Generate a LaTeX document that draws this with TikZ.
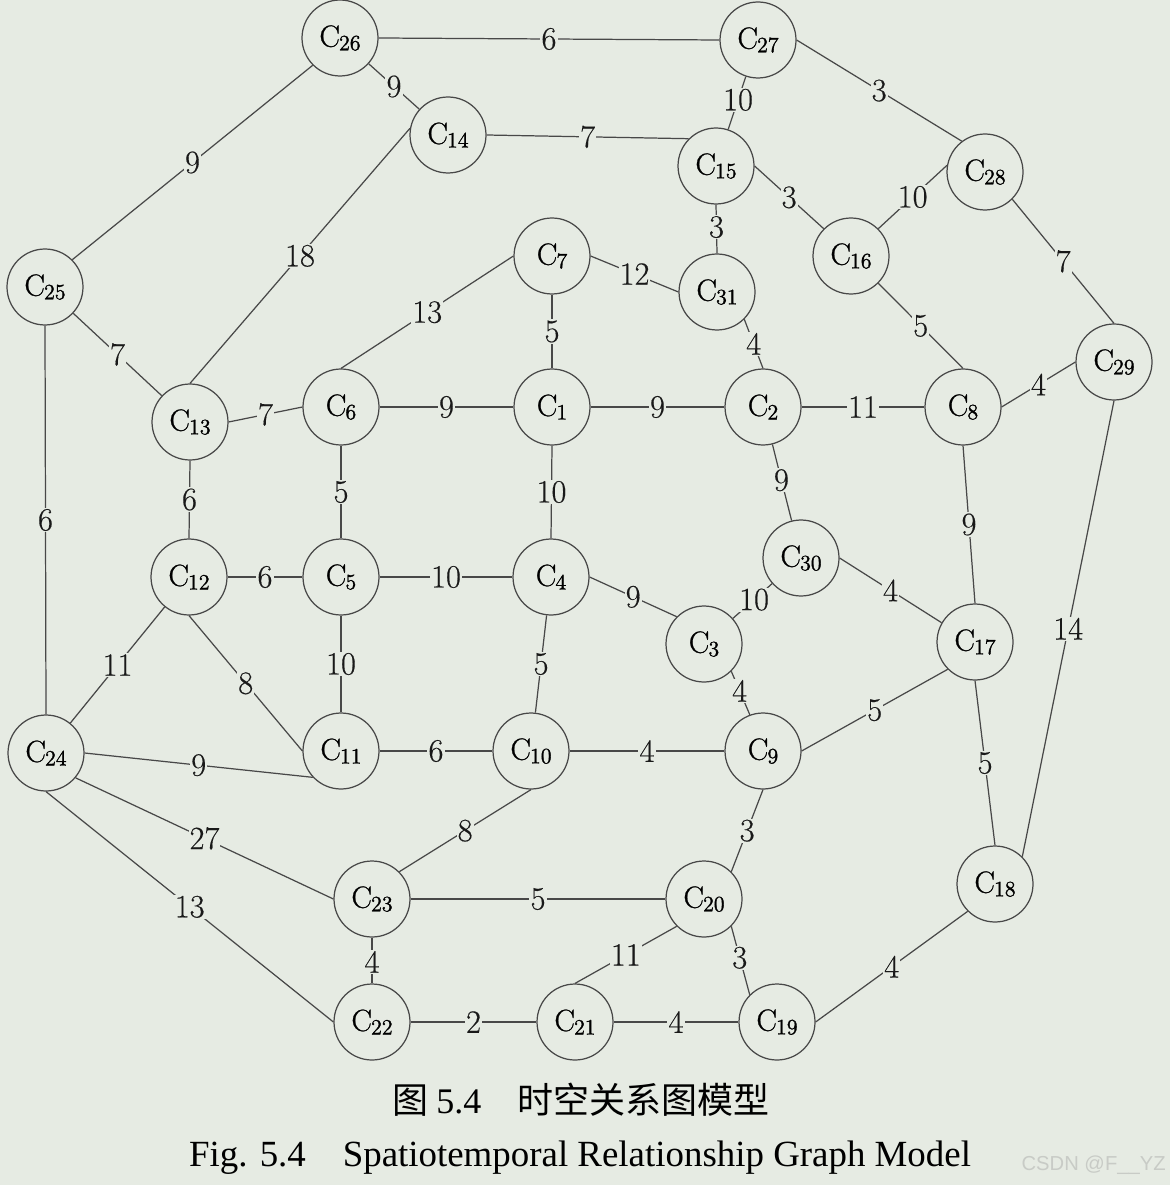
\documentclass[tikz,border=0pt]{standalone}
\usepackage{fontspec}
\newfontfamily\timesf{Liberation Serif}
\newfontfamily\cjk{Noto Sans CJK SC}
\newfontfamily\wmf{Liberation Sans}
\newfontfamily\ndf[FakeBold=0.8]{Latin Modern Roman}
\newfontfamily\ndsub[FakeBold=1.4]{Latin Modern Roman}
\newfontfamily\wtf[FakeBold=0.4]{Latin Modern Roman}
\definecolor{bg}{RGB}{230,235,227}
\definecolor{ln}{RGB}{72,72,72}
\definecolor{wm}{RGB}{200,203,198}
\newcommand\nd[1]{{\ndf C}\kern-0.5pt\raisebox{-2pt}{\ndsub\fontsize{12.5}{12.5}\selectfont #1}}
\tikzset{
  vtx/.style={circle, draw=ln, line width=0.7pt, minimum size=1.52cm, inner sep=0pt,
    fill=bg, font=\fontsize{17.5}{17.5}\selectfont},
  edge/.style={draw=ln, line width=0.7pt},
  wl/.style={fill=bg, inner sep=0.6pt, text=black!90, font=\wtf\fontsize{18.5}{18.5}\selectfont, midway},
}
\begin{document}
\begin{tikzpicture}[x=0.02cm, y=-0.02cm]
\fill[bg] (0,0) rectangle (1170,1185);
\useasboundingbox (0,0) rectangle (1170,1185);

\node[vtx] (C26) at (340,38) {\nd{26}};
\node[vtx] (C27) at (758,40) {\nd{27}};
\node[vtx] (C14) at (448,135) {\nd{14}};
\node[vtx] (C15) at (716,166) {\nd{15}};
\node[vtx] (C28) at (985,172) {\nd{28}};
\node[vtx] (C25) at (45,287) {\nd{25}};
\node[vtx] (C7) at (552,256) {\nd{7}};
\node[vtx] (C31) at (717,292) {\nd{31}};
\node[vtx] (C16) at (851,256) {\nd{16}};
\node[vtx] (C29) at (1114,362) {\nd{29}};
\node[vtx] (C13) at (190,422) {\nd{13}};
\node[vtx] (C6) at (341,407) {\nd{6}};
\node[vtx] (C1) at (552,407) {\nd{1}};
\node[vtx] (C2) at (763,407) {\nd{2}};
\node[vtx] (C8) at (963,407) {\nd{8}};
\node[vtx] (C30) at (801,558) {\nd{30}};
\node[vtx] (C12) at (189,577) {\nd{12}};
\node[vtx] (C5) at (341,577) {\nd{5}};
\node[vtx] (C4) at (551,577) {\nd{4}};
\node[vtx] (C3) at (704,644) {\nd{3}};
\node[vtx] (C17) at (975,642) {\nd{17}};
\node[vtx] (C24) at (46,753) {\nd{24}};
\node[vtx] (C11) at (341,751) {\nd{11}};
\node[vtx] (C10) at (531,751) {\nd{10}};
\node[vtx] (C9) at (763,751) {\nd{9}};
\node[vtx] (C18) at (995,884) {\nd{18}};
\node[vtx] (C23) at (372,899) {\nd{23}};
\node[vtx] (C20) at (704,899) {\nd{20}};
\node[vtx] (C22) at (372,1022) {\nd{22}};
\node[vtx] (C21) at (575,1022) {\nd{21}};
\node[vtx] (C19) at (777,1022) {\nd{19}};

\draw[edge] (C26.east) -- node[wl]{6} (C27.west);
\draw[edge] (C26) -- node[wl]{9} (C14);
\draw[edge] (C26.225) -- node[wl]{9} (C25.45);
\draw[edge] (C27) -- node[wl,pos=0.44]{10} (C15);
\draw[edge] (C27.east) -- node[wl]{3} (C28.127);
\draw[edge] (C14.east) -- node[wl]{7} (C15.135);
\draw[edge] (C13.north) -- node[wl]{18} (C14.170);
\draw[edge] (C15.south) -- node[wl,pos=0.46]{3} (C31.north);
\draw[edge] (C15.east) -- node[wl]{3} (C16.135);
\draw[edge] (C16.45) -- node[wl]{10} (C28.170);
\draw[edge] (C28.315) -- node[wl]{7} (C29.north);
\draw[edge] (C25) -- node[wl]{7} (C13);
\draw[edge] (C25.south) -- node[wl]{6} (C24.north);
\draw[edge] (C6.north) -- node[wl]{13} (C7.west);
\draw[edge] (C7.east) -- node[wl]{12} (C31.west);
\draw[edge] (C7.south) -- node[wl]{5} (C1.north);
\draw[edge] (C31.315) -- node[wl]{4} (C2.north);
\draw[edge] (C16.315) -- node[wl]{5} (C8.north);
\draw[edge] (C8.east) -- node[wl]{4} (C29.west);
\draw[edge] (C29.south) -- node[wl]{14} (C18.45);
\draw[edge] (C13.east) -- node[wl]{7} (C6.west);
\draw[edge] (C13.south) -- node[wl]{6} (C12.north);
\draw[edge] (C6.east) -- node[wl]{9} (C1.west);
\draw[edge] (C6.south) -- node[wl]{5} (C5.north);
\draw[edge] (C1.east) -- node[wl]{9} (C2.west);
\draw[edge] (C1.south) -- node[wl]{10} (C4.north);
\draw[edge] (C2.east) -- node[wl]{11} (C8.west);
\draw[edge] (C2) -- node[wl,pos=0.47]{9} (C30);
\draw[edge] (C8.south) -- node[wl]{9} (C17.north);
\draw[edge] (C30.east) -- node[wl]{4} (C17.150);
\draw[edge] (C30) -- node[wl,pos=0.46]{10} (C3);
\draw[edge] (C12.east) -- node[wl]{6} (C5.west);
\draw[edge] (C5.east) -- node[wl]{10} (C4.west);
\draw[edge] (C5.south) -- node[wl]{10} (C11.north);
\draw[edge] (C4.east) -- node[wl]{9} (C3.135);
\draw[edge] (C4) -- node[wl]{5} (C10);
\draw[edge] (C3.315) -- node[wl,pos=0.45]{4} (C9.110);
\draw[edge] (C9.east) -- node[wl]{5} (C17.225);
\draw[edge] (C17.south) -- node[wl]{5} (C18.north);
\draw[edge] (C12) -- node[wl]{11} (C24);
\draw[edge] (C12.south) -- node[wl]{8} (C11.west);
\draw[edge] (C24.east) -- node[wl]{9} (C11.223);
\draw[edge] (C11.east) -- node[wl]{6} (C10.west);
\draw[edge] (C10.east) -- node[wl]{4} (C9.west);
\draw[edge] (C23.45) -- node[wl]{8} (C10.south);
\draw[edge] (C9.south) -- node[wl]{3} (C20.45);
\draw[edge] (C23.east) -- node[wl]{5} (C20.west);
\draw[edge] (C23.south) -- node[wl,pos=0.53]{4} (C22.north);
\draw[edge] (C20.225) -- node[wl]{11} (C21.north);
\draw[edge] (C20.315) -- node[wl,pos=0.46]{3} (C19.135);
\draw[edge] (C22.east) -- node[wl]{2} (C21.west);
\draw[edge] (C21.east) -- node[wl]{4} (C19.west);
\draw[edge] (C19.east) -- node[wl]{4} (C18.225);
\draw[edge] (C24.320) -- node[wl]{27} (C23.west);
\draw[edge] (C24.south) -- node[wl]{13} (C22.west);

\node (cap1) at (581,1100) {\fontsize{20.5}{20.5}\selectfont\cjk 图 {\timesf 5.4}\quad 时空关系图模型};
\node (cap2) at (580,1158) {\timesf\fontsize{21}{22}\selectfont Fig. 5.4\quad Spatiotemporal Relationship Graph Model};
\node[anchor=east, inner sep=0pt, text=wm, font=\wmf\fontsize{11.5}{12}\selectfont] (wmk) at (1166,1165) {CSDN @F\_\_YZ};
\end{tikzpicture}
\end{document}
